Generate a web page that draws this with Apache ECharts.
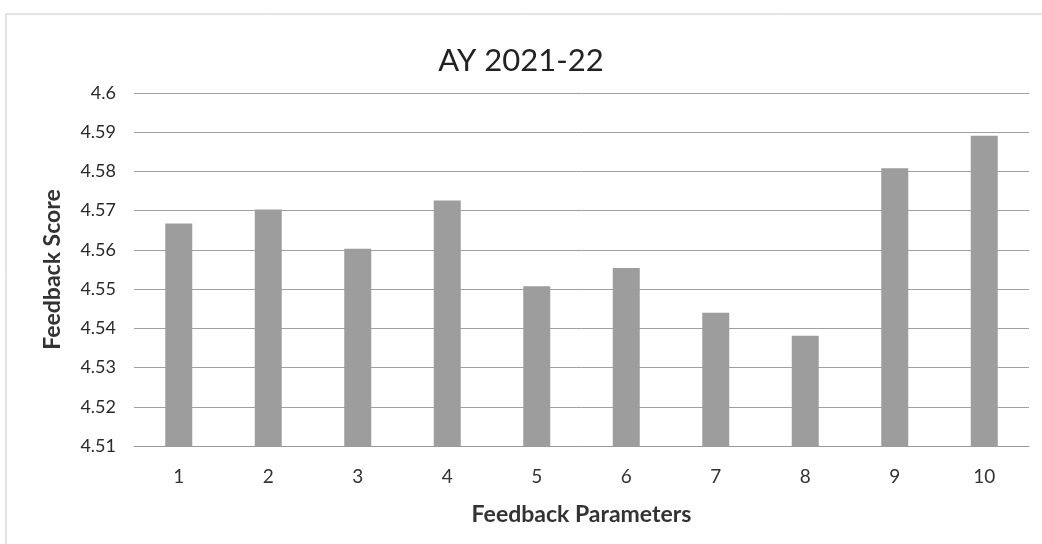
<!DOCTYPE html>
<html>
<head>
<meta charset="utf-8">
<title>AY 2021-22</title>
<script src="https://cdn.jsdelivr.net/npm/echarts@6/dist/echarts.min.js"></script>
<style>
  html, body { margin: 0; padding: 0; background: #fff; }
  #chart { width: 1042px; height: 544px; }
</style>
</head>
<body>
<div id="chart"></div>
<script>
// feedback parameter numbers and their scores
const parameters = ['1', '2', '3', '4', '5', '6', '7', '8', '9', '10']
const scores = [4.5667, 4.5703, 4.5603, 4.5726, 4.5507, 4.5554, 4.544, 4.5381, 4.5808, 4.5891]

const chart = echarts.init(document.getElementById('chart'))

chart.setOption({
  backgroundColor: '#fff',
  animation: false,
  title: {
    text: 'AY 2021-22',
    left: 'center',
    top: 40,
    textStyle: {
      fontFamily: 'Lato',
      fontSize: 31,
      fontWeight: 'normal',
      color: '#222'
    }
  },
  // thin frame like the scanned chart border
  graphic: [{
    type: 'rect',
    shape: { x: 6, y: 14, width: 1040, height: 540 },
    style: { fill: 'none', stroke: '#c8c8c8', lineWidth: 1 },
    silent: true
  }],
  grid: {
    left: 134,
    right: 13,
    top: 93,
    bottom: 98
  },
  xAxis: {
    type: 'category',
    data: parameters,
    name: 'Feedback Parameters',
    nameLocation: 'middle',
    nameGap: 57,
    nameTextStyle: {
      fontFamily: 'Lato',
      fontSize: 23,
      fontWeight: 'bold',
      color: '#333'
    },
    axisTick: { show: false },
    axisLine: { lineStyle: { color: '#999', width: 1 } },
    axisLabel: {
      margin: 21,
      fontFamily: 'Lato',
      fontSize: 19,
      color: '#333'
    }
  },
  yAxis: {
    type: 'value',
    min: 4.51,
    max: 4.6,
    interval: 0.01,
    name: 'Feedback Score',
    nameLocation: 'middle',
    nameGap: 70,
    nameTextStyle: {
      fontFamily: 'Lato',
      fontSize: 23,
      fontWeight: 'bold',
      color: '#333'
    },
    axisLine: { show: false },
    axisTick: { show: false },
    splitLine: { lineStyle: { color: '#a0a0a0', width: 1 } },
    axisLabel: {
      margin: 18,
      fontFamily: 'Lato',
      fontSize: 18,
      color: '#2a2a2a',
      formatter: function(v) {
        return String(parseFloat(v.toFixed(2)))
      }
    }
  },
  series: [{
    type: 'bar',
    data: scores,
    barWidth: 27,
    itemStyle: { color: '#9d9d9d' }
  }]
})
</script>
</body>
</html>
